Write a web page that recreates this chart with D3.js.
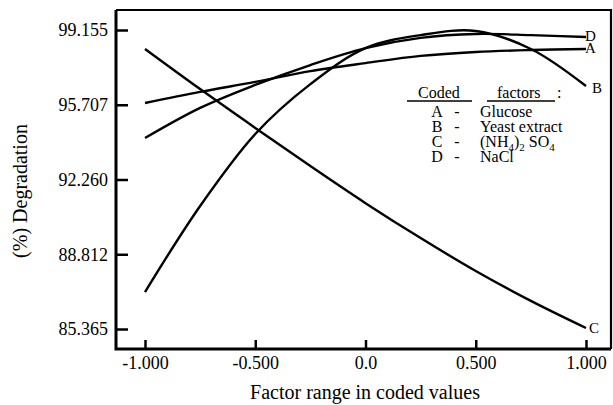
<!DOCTYPE html>
<html>
<head>
<meta charset="utf-8">
<script src="https://cdn.jsdelivr.net/npm/d3@7"></script>
<style>
body { margin: 0; background: #fff; }
svg { display: block; font-family: "Liberation Serif", "Times New Roman", serif; }
</style>
</head>
<body>
<svg width="613" height="405"></svg>
<script>
// coded factor levels and the response (% degradation) for each factor
var codedX = [-1, -0.75, -0.5, -0.25, 0, 0.25, 0.5, 0.75, 1];
var glucoseA = [95.79, 96.30, 96.76, 97.26, 97.63, 97.96, 98.14, 98.23, 98.28];
var yeastB = [87.07, 91.04, 94.36, 96.66, 98.32, 98.92, 99.11, 98.28, 96.57];
var ammoniumC = [98.28, 96.43, 94.64, 92.88, 91.17, 89.56, 88.04, 86.66, 85.41];
var naclD = [94.17, 95.56, 96.62, 97.54, 98.32, 98.79, 98.97, 98.92, 98.83];

var xTicks = [-1, -0.5, 0, 0.5, 1];
var xTickLabels = ["-1.000", "-0.500", "0.0", "0.500", "1.000"];
var yTicks = [85.365, 88.812, 92.260, 95.707, 99.155];
var yTickLabels = ["85.365", "88.812", "92.260", "95.707", "99.155"];

var factorCodes = ["A", "B", "C", "D"];
var factorNames = ["Glucose", "Yeast extract", "(NH4)2 SO4", "NaCl"];

var svg = d3.select("svg");
var frame = {left: 116, top: 10, right: 611, bottom: 349};

var x = d3.scaleLinear().domain([-1, 1]).range([145, 586]);
var y = d3.scaleLinear().domain([85.365, 99.155]).range([329, 30]);

// frame
svg.append("path")
  .attr("d", "M" + frame.left + "," + frame.top + "H" + frame.right + "V" + frame.bottom)
  .attr("fill", "none").attr("stroke", "#000").attr("stroke-width", 2.2);
svg.append("path")
  .attr("d", "M" + frame.left + "," + frame.top + "V" + frame.bottom + "H" + frame.right)
  .attr("fill", "none").attr("stroke", "#000").attr("stroke-width", 3);

var yAxis = svg.append("g")
  .attr("transform", "translate(" + frame.left + ",0)")
  .call(d3.axisLeft(y).tickValues(yTicks)
    .tickFormat(function(d, i) { return yTickLabels[i]; })
    .tickSize(-12).tickPadding(8));

var xAxis = svg.append("g")
  .attr("transform", "translate(0," + frame.bottom + ")")
  .call(d3.axisBottom(x).tickValues(xTicks)
    .tickFormat(function(d, i) { return xTickLabels[i]; })
    .tickSize(-9).tickPadding(7));

svg.selectAll(".domain").remove();
svg.selectAll(".tick line").attr("stroke", "#000").attr("stroke-width", 2.5);
svg.selectAll(".tick text")
  .attr("fill", "#000")
  .style("font-family", "'Liberation Serif', 'Times New Roman', serif")
  .style("font-size", "18px");

// axis titles
svg.append("text")
  .attr("x", 365).attr("y", 399)
  .attr("text-anchor", "middle")
  .style("font-size", "20px")
  .text("Factor range in coded values");

svg.append("text")
  .attr("transform", "translate(27,191) rotate(-90)")
  .attr("text-anchor", "middle")
  .style("font-size", "20px")
  .text("(%) Degradation");

// curves
var line = d3.line()
  .x(function(d) { return x(d[0]); })
  .y(function(d) { return y(d[1]); })
  .curve(d3.curveCatmullRom.alpha(0.5));

var series = [glucoseA, yeastB, ammoniumC, naclD];
series.forEach(function(vals) {
  svg.append("path")
    .datum(codedX.map(function(c, i) { return [c, vals[i]]; }))
    .attr("fill", "none")
    .attr("stroke", "#000")
    .attr("stroke-width", 2.4)
    .attr("d", line);
});

// end labels
var endLabelPos = [[585, 53], [592, 93], [589, 333], [585, 41]];
factorCodes.forEach(function(c, i) {
  svg.append("text")
    .attr("x", endLabelPos[i][0]).attr("y", endLabelPos[i][1])
    .style("font-size", "15px")
    .text(c);
});

// legend
var legend = svg.append("g").style("font-size", "16px");
legend.append("text").attr("x", 418).attr("y", 98).text("Coded");
legend.append("text").attr("x", 497).attr("y", 98).text("factors");
legend.append("text").attr("x", 557).attr("y", 98).text(":");
legend.append("line").attr("x1", 407).attr("x2", 472).attr("y1", 101).attr("y2", 101)
  .attr("stroke", "#000").attr("stroke-width", 1.5);
legend.append("line").attr("x1", 487).attr("x2", 555).attr("y1", 101).attr("y2", 101)
  .attr("stroke", "#000").attr("stroke-width", 1.5);

factorCodes.forEach(function(c, i) {
  var by = 117 + i * 15;
  legend.append("text").attr("x", 437).attr("y", by).attr("text-anchor", "middle").text(c);
  legend.append("text").attr("x", 457).attr("y", by).attr("text-anchor", "middle").text("-");
  var t = legend.append("text").attr("x", 480).attr("y", by);
  // digits in the chemical formula are subscripts
  var shift = 0;
  factorNames[i].split(/(\d)/).forEach(function(part) {
    if (part === "") return;
    var sub = /\d/.test(part);
    var target = sub ? 4 : 0;
    var ts = t.append("tspan").attr("dy", target - shift).text(part);
    if (sub) ts.style("font-size", "11px");
    shift = target;
  });
});
</script>
</body>
</html>
